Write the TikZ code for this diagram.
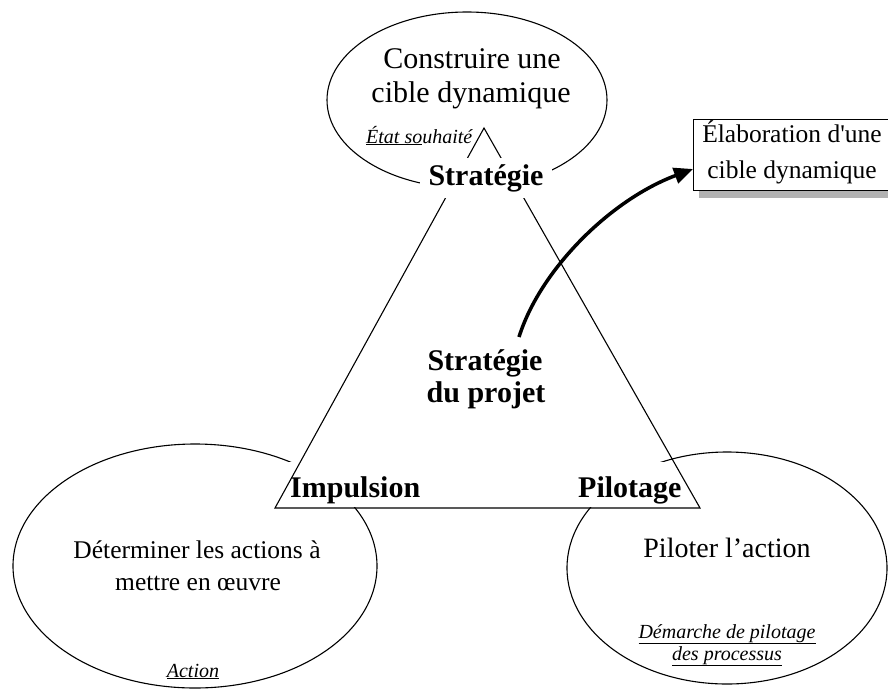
\documentclass[tikz,border=0pt]{standalone}
\usepackage{fontspec}
\setmainfont{Liberation Serif}
\usetikzlibrary{arrows.meta,shapes.geometric}
\begin{document}
\begin{tikzpicture}[x=1pt,y=-1pt,
  bubble/.style={draw, ellipse, line width=1.1pt, inner sep=0pt},
  big/.style={font=\fontsize{30}{34}\selectfont, anchor=base, inner sep=0pt},
  mid/.style={font=\fontsize{25.5}{30}\selectfont, anchor=base, inner sep=0pt},
  pil/.style={font=\fontsize{28}{32}\selectfont, anchor=base, inner sep=0pt},
  ital/.style={font=\fontsize{20}{23}\selectfont\itshape, anchor=base, inner sep=0pt},
  bold/.style={font=\fontsize{30}{34}\selectfont\bfseries, anchor=base, inner sep=0pt},
  corner/.style={font=\fontsize{30}{34}\selectfont\bfseries, fill=white, anchor=base west,
     inner xsep=7pt, inner ysep=0pt, text height=35pt, text depth=10pt},
  tri/.style={line width=1.1pt, line join=miter},
  flow/.style={line width=3.5pt, -{Triangle[length=19pt,width=16pt]}},
  boxst/.style={draw, line width=1pt, anchor=north west, minimum width=260pt, minimum height=71pt, inner sep=0pt}
]
\useasboundingbox (0,0) rectangle (888,691);
\clip (0,0) rectangle (888,691);

% ellipses
\node[bubble, minimum width=280pt, minimum height=176pt] (etop) at (467,100) {};
\node[bubble, minimum width=364pt, minimum height=244pt] (eleft) at (195,566) {};
\node[bubble, minimum width=320pt, minimum height=232pt] (eright) at (727,568) {};

% texts in ellipses
\node[big] (t1) at (472,68) {Construire une};
\node[big] (t2) at (471,102) {cible dynamique};
\node[ital, anchor=base west] (t3) at (366,143) {\underline{État so}uhaité};

\node[mid] (l1) at (197,558) {Déterminer les actions à};
\node[mid] (l2) at (198,590) {mettre en œuvre};
\node[ital] (l3) at (193,677) {\underline{Action}};

\node[pil] (r1) at (727,557) {Piloter l’action};
\node[ital] (r2) at (727,638) {\underline{Démarche de pilotage}};
\node[ital] (r3) at (727,660) {\underline{des processus}};

% corner labels (white boxes)
\node[corner] (imp) at (283,497) {Impulsion};
\node[corner] (pilo) at (571,497) {Pilotage};

% triangle
\coordinate (A) at (275,508);
\coordinate (B) at (700,508);
\coordinate (C) at (484,128);
\draw[tri] (A) -- (B) -- (C) -- cycle;

% top label
\node[bold, fill=white, inner xsep=9pt, inner ysep=6pt] (strat) at (486,185) {Stratégie};

% centre
\node[bold] (sp1) at (485,370) {Stratégie};
\node[bold] (sp2) at (486,402) {du projet};

% box with shadow
\fill[gray!60] (699,190.5) rectangle (960,198);
\node[boxst, fill=white] (box) at (693,119) {};
\node[mid] (b1) at (792,142) {Élaboration d\textquotesingle une};
\node[mid] (b2) at (792,178) {cible dynamique};

% arrow
\coordinate (astart) at (519,337);
\coordinate (aend) at (693,169);
\draw[flow] (astart) .. controls (540,270) and (610,200) .. (aend);
\end{tikzpicture}
\end{document}
